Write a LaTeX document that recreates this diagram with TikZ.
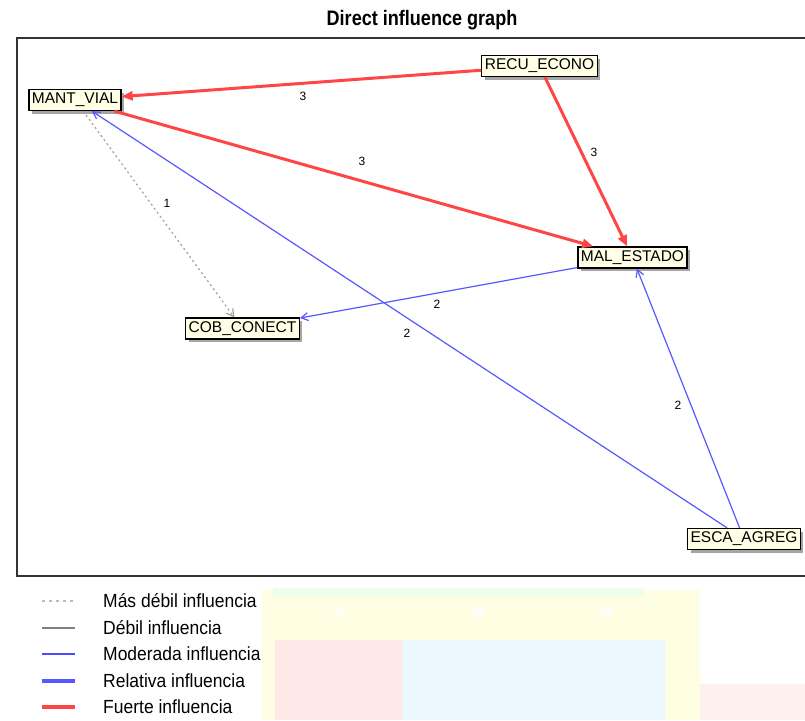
\documentclass[tikz,border=0pt]{standalone}
\usepackage{fontspec}
\setmainfont{Liberation Sans}
\newfontfamily\titlefont[FakeStretch=0.86]{Liberation Sans}
\newfontfamily\legfont[FakeStretch=0.92]{Liberation Sans}
\usetikzlibrary{shadows,arrows.meta}
\definecolor{cream}{HTML}{FFFFE6}
\definecolor{strongred}{HTML}{FF4646}
\definecolor{modblue}{HTML}{5858FF}
\definecolor{weakgray}{HTML}{A0A0A0}
\begin{document}
\begin{tikzpicture}[x=1pt,y=-1pt,
  var/.style={draw=black, line width=1.2pt, fill=cream, inner xsep=3pt, inner ysep=0pt,
    minimum height=21pt, text=black, font=\fontsize{15.5}{16}\selectfont,
    drop shadow={shadow xshift=3pt, shadow yshift=-3pt, fill=black!50, opacity=0.7}},
  elabel/.style={font=\fontsize{12}{13}\selectfont, text=black, inner sep=1pt},
  strong/.style={draw=strongred, line width=3pt, -{Triangle[length=11pt,width=9pt]}},
  moderate/.style={draw=modblue, line width=1.2pt, -{Straight Barb[length=7pt,width=8pt,line width=1.2pt]}},
  weakest/.style={draw=weakgray, line width=1.2pt, dash pattern=on 2pt off 3pt, -{Straight Barb[length=7pt,width=8pt,line width=1.2pt]}},
  legtext/.style={anchor=west, font=\legfont\fontsize{19}{20}\selectfont, inner sep=0pt}
]
\useasboundingbox (0,0) rectangle (805,720);
\fill[white] (0,0) rectangle (805,720);
% faded background emblem
\fill[yellow!11] (262,590) rectangle (700,720);
\fill[green!8] (273,588) rectangle (643,597);
\fill[red!9] (275,640) rectangle (402,720);
\fill[cyan!8] (402,640) rectangle (665,720);
\fill[red!6] (700,684) rectangle (805,720);
\fill[white, opacity=0.7] (340,612) circle (6);
\fill[white, opacity=0.7] (478,612) circle (6);
\fill[white, opacity=0.7] (607,612) circle (6);
% title
\node (title) at (422,20) {\titlefont\bfseries\fontsize{21}{22}\selectfont Direct influence graph};
% frame
\draw[black!80, line width=1.5pt] (810,38) -- (17,38) -- (17,576) -- (810,576);
% nodes
\node[var] (mant) at (75,100) {MANT\_VIAL};
\node[var] (recu) at (539.5,66) {RECU\_ECONO};
\node[var] (mal) at (632.5,257.5) {MAL\_ESTADO};
\node[var] (cob) at (242.5,328.5) {COB\_CONECT};
\node[var] (esca) at (744,539) {ESCA\_AGREG};
% edges
\draw[weakest] (mant) -- (cob);
\draw[moderate] (mal) -- (cob);
\draw[moderate] (esca) -- (mant);
\draw[moderate] (esca) -- (mal);
\draw[strong] (recu) -- (mant);
\draw[strong] (recu) -- (mal);
\draw[strong] (mant) -- (mal);
% edge labels
\node[elabel] (l1) at (303,96) {3};
\node[elabel] (l2) at (594,152) {3};
\node[elabel] (l3) at (362,161) {3};
\node[elabel] (l4) at (167,203) {1};
\node[elabel] (l5) at (437,304) {2};
\node[elabel] (l6) at (407,333) {2};
\node[elabel] (l7) at (678,405) {2};
% legend
\coordinate (a1) at (42,601); \coordinate (b1) at (75,601);
\coordinate (a2) at (42,628); \coordinate (b2) at (75,628);
\coordinate (a3) at (42,654); \coordinate (b3) at (75,654);
\coordinate (a4) at (42,681); \coordinate (b4) at (75,681);
\coordinate (a5) at (42,707); \coordinate (b5) at (75,707);
\draw[weakgray!70, line width=1.2pt, dash pattern=on 3pt off 4pt] (a1) -- (b1);
\draw[black!50, line width=2pt] (a2) -- (b2);
\draw[modblue!85!blue, line width=1.5pt] (a3) -- (b3);
\draw[modblue, line width=3.5pt] (a4) -- (b4);
\draw[strongred, line width=3.5pt] (a5) -- (b5);
\node[legtext] (t1) at (103,601) {Más débil influencia};
\node[legtext] (t2) at (103,628) {Débil influencia};
\node[legtext] (t3) at (103,654) {Moderada influencia};
\node[legtext] (t4) at (103,681) {Relativa influencia};
\node[legtext] (t5) at (103,707) {Fuerte influencia};
\end{tikzpicture}
\end{document}
